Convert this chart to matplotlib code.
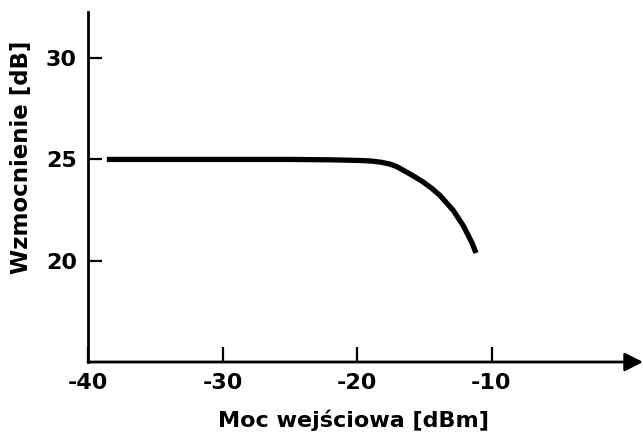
import matplotlib
matplotlib.use("Agg")
import matplotlib.pyplot as plt

# Data
input_power = [-38.6, -30.0, -25.0, -22.0, -20.5, -19.5, -18.8, -18.2, -17.55, -17.0,
               -16.3, -15.7, -15.07, -14.4, -13.83, -12.84, -12.1, -11.47, -11.15]
gain = [25.0, 25.0, 25.0, 24.98, 24.96, 24.94, 24.91, 24.86, 24.77, 24.63,
        24.37, 24.14, 23.88, 23.55, 23.22, 22.48, 21.73, 20.91, 20.38]
x_ticks = [-40, -30, -20, -10]
x_tick_labels = ["-40", "-30", "-20", "-10"]
y_ticks = [20, 25, 30]
y_tick_labels = ["20", "25", "30"]
x_label = "Moc wejściowa [dBm]"
y_label = "Wzmocnienie [dB]"

plt.rcParams['font.family'] = ['DejaVu Sans']

fig = plt.figure(figsize=(6.43, 4.32), dpi=100)
ax = fig.add_axes([88/643, 70/432, (643-88)/643, (362-12)/432])

xmax = -40 + (643-88)/13.45
ax.set_xlim(-40, xmax)
ax.set_ylim(15, 25 + (159-12)/20.2)

ax.plot(input_power, gain, color='black', lw=3.8, solid_capstyle='butt')

for s in ['top', 'right', 'bottom']:
    ax.spines[s].set_visible(False)
ax.spines['left'].set_linewidth(2.0)

# x axis line with arrow head
ax.annotate('', xy=(1.0, 0), xycoords='axes fraction',
            xytext=(0.0, 0), textcoords='axes fraction',
            arrowprops=dict(arrowstyle='-|>,head_length=0.55,head_width=0.28',
                            mutation_scale=20, color='black', lw=2.0,
                            shrinkA=0, shrinkB=0),
            annotation_clip=False)

ax.set_xticks(x_ticks)
ax.set_xticklabels(x_tick_labels, fontweight='bold')
ax.set_yticks(y_ticks)
ax.set_yticklabels(y_tick_labels, fontweight='bold')
ax.tick_params(axis='x', direction='in', length=11, width=1.6, pad=8, labelsize=16)
ax.tick_params(axis='y', direction='in', length=10, width=1.6, pad=8, labelsize=16)

fig.text(22/643, 1-157/432, y_label, rotation=90, ha='center', va='center',
         fontsize=16.5, fontweight='bold')
fig.text(353/643, 1-420/432, x_label, ha='center', va='center',
         fontsize=16, fontweight='bold')

fig.savefig("out.png", dpi=100)
